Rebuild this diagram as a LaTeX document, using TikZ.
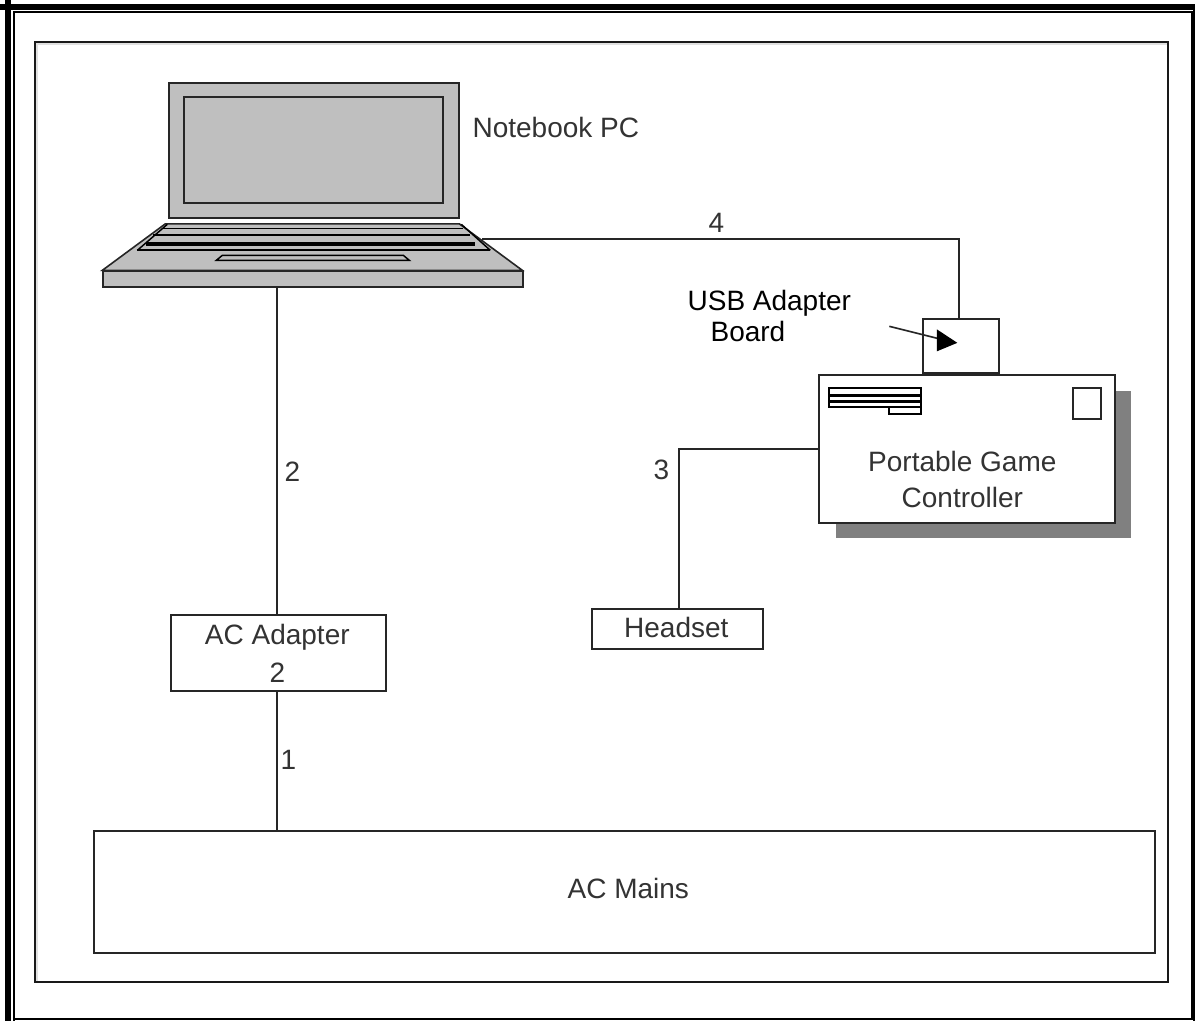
\documentclass[tikz,border=0pt]{standalone}
\usepackage{fontspec}
\setmainfont{Liberation Sans}
\usetikzlibrary{calc}
\definecolor{lapgray}{gray}{0.75}
\definecolor{shadowgray}{gray}{0.5}
\tikzset{
  line/.style={draw=black!85,line width=1.5pt},
  box/.style={line,fill=white,inner sep=0pt},
  lap/.style={line,fill=lapgray},
  keyline/.style={draw=black,line width=1.1pt},
  lbl/.style={text=black!80,inner sep=0pt,font=\fontsize{21}{30}\selectfont,align=center},
  lblb/.style={text=black,inner sep=0pt,font=\fontsize{21}{25}\selectfont,align=left},
}
\newcommand{\rectnode}[6][box]{\node[#1,minimum width=#5*0.75pt-#3*0.75pt,minimum height=#6*0.75pt-#4*0.75pt,anchor=north west] (#2) at (#3,#4) {};}
\begin{document}
\begin{tikzpicture}[x=0.75pt,y=-0.75pt]
\useasboundingbox (0,0) rectangle (1195,1021);
% page frame
\draw[black,line width=4.5pt] (0,7) -- (1195,7);
\draw[black,line width=4.5pt] (8,0) -- (8,1021);
\draw[black,line width=1.5pt] (14,12) -- (1191.5,12) -- (1191.5,1019) -- (14,1019) -- cycle;
\draw[black,line width=1.5pt] (14,12) -- (14,1021);
\draw[black,line width=1.5pt] (1194.3,9) -- (1194.3,1021);
\begin{scope}[xshift=-0.5pt,yshift=0.5pt]
\draw[black!12,line width=1.5pt] (38,983) -- (38,45) -- (1169,45);
\draw[black!90,line width=1.5pt] (35.5,42.5) rectangle (1169,983);

% laptop
\node[lap,minimum width=217.5pt,minimum height=101.25pt,anchor=north west,inner sep=0pt] (screen) at (169,83) {};
\node[lap,minimum width=194.25pt,minimum height=79.5pt,anchor=north west,inner sep=0pt] (display) at (184,97) {};
\path[lap,line width=1.2pt] (166,224.5) -- (460,224.5) -- (523,271) -- (103,271) -- cycle;
\node[lap,minimum width=315pt,minimum height=12pt,anchor=north west,inner sep=0pt] (lapbase) at (103,271) {};
\draw[keyline] (168,225) -- (138,251);
\draw[keyline] (462,225) -- (491,251);
\draw[keyline] (163,229) -- (464,229);
\draw[keyline,line width=1.5pt] (154,236) -- (471,236);
\draw[keyline,line width=3pt] (147,245) -- (476,245);
\draw[keyline,line width=1.4pt] (138,251) -- (491,251);
\draw[black,line width=1.1pt,fill=lapgray] (223,256) -- (404,256) -- (410,261) -- (217,261) -- cycle;
\coordinate (lapside) at (483,240);
\node[lbl,anchor=base west] (notebook) at (473,138) {Notebook PC};

% boxes
\rectnode{mains}{94}{831}{1155}{953}
\node[lbl] (mainstext) at (629,889) {AC Mains};
\rectnode{acad}{171}{615}{386}{691}
\node[lbl] (acadtext) at (278,654) {AC Adapter\\[-1pt]2};
\rectnode{headset}{592}{609}{763}{649}
\node[lbl] (headsettext) at (677,628) {Headset};

% controller
\fill[shadowgray] (837,392) rectangle (1132,539);
\rectnode{usb}{923}{319}{999}{373}
\rectnode{ctrl}{819}{375}{1115}{523}
\draw[black,line width=1.4pt] (830,388.5) rectangle (922,408);
\fill[black] (830,394.5) rectangle (922,397.5);
\fill[black] (830,400.5) rectangle (922,403.5);
\draw[black,line width=1.4pt] (890,408) rectangle (922,414.5);
\node[line,line width=1.3pt,minimum width=21pt,minimum height=23.25pt,anchor=north west,inner sep=0pt] (stamp) at (1073,388) {};
\node[lbl,font=\fontsize{21}{27}\selectfont] (ctrltext) at (963,480) {Portable Game\\Controller};

% connectors
\coordinate (spine) at (278,691);
\draw[line] (lapbase.south -| spine) -- (acad.north -| spine);
\draw[line] (acad.south -| spine) -- (mains.north -| spine);
\coordinate (bend4) at (959.4,240);
\coordinate (usbtop) at (959.4,319);
\draw[line] (lapside) -- (bend4) -- (usbtop);
\coordinate (bend3) at (679.6,450);
\draw[line] (ctrl.west |- bend3) -- (bend3) -- (bend3 |- headset.north);

% labels
\node[lbl] (n4) at (717,224) {4};
\node[lbl] (n2) at (293,472) {2};
\node[lbl] (n3) at (662,471) {3};
\node[lbl] (n1) at (289,761) {1};
\node[lblb,anchor=base west] (usbl1) at (688,311) {USB Adapter};
\node[lblb,anchor=base west] (usbl2) at (711,342) {Board};

% pointer
\coordinate (ptrfrom) at (890,327);
\coordinate (ptrbase) at (938,339);
\draw[black!85,line width=1.2pt] (ptrfrom) -- (ptrbase);
\fill[black] (937.5,330) -- (958,343.5) -- (937.5,352) -- cycle;
\end{scope}
\end{tikzpicture}
\end{document}
